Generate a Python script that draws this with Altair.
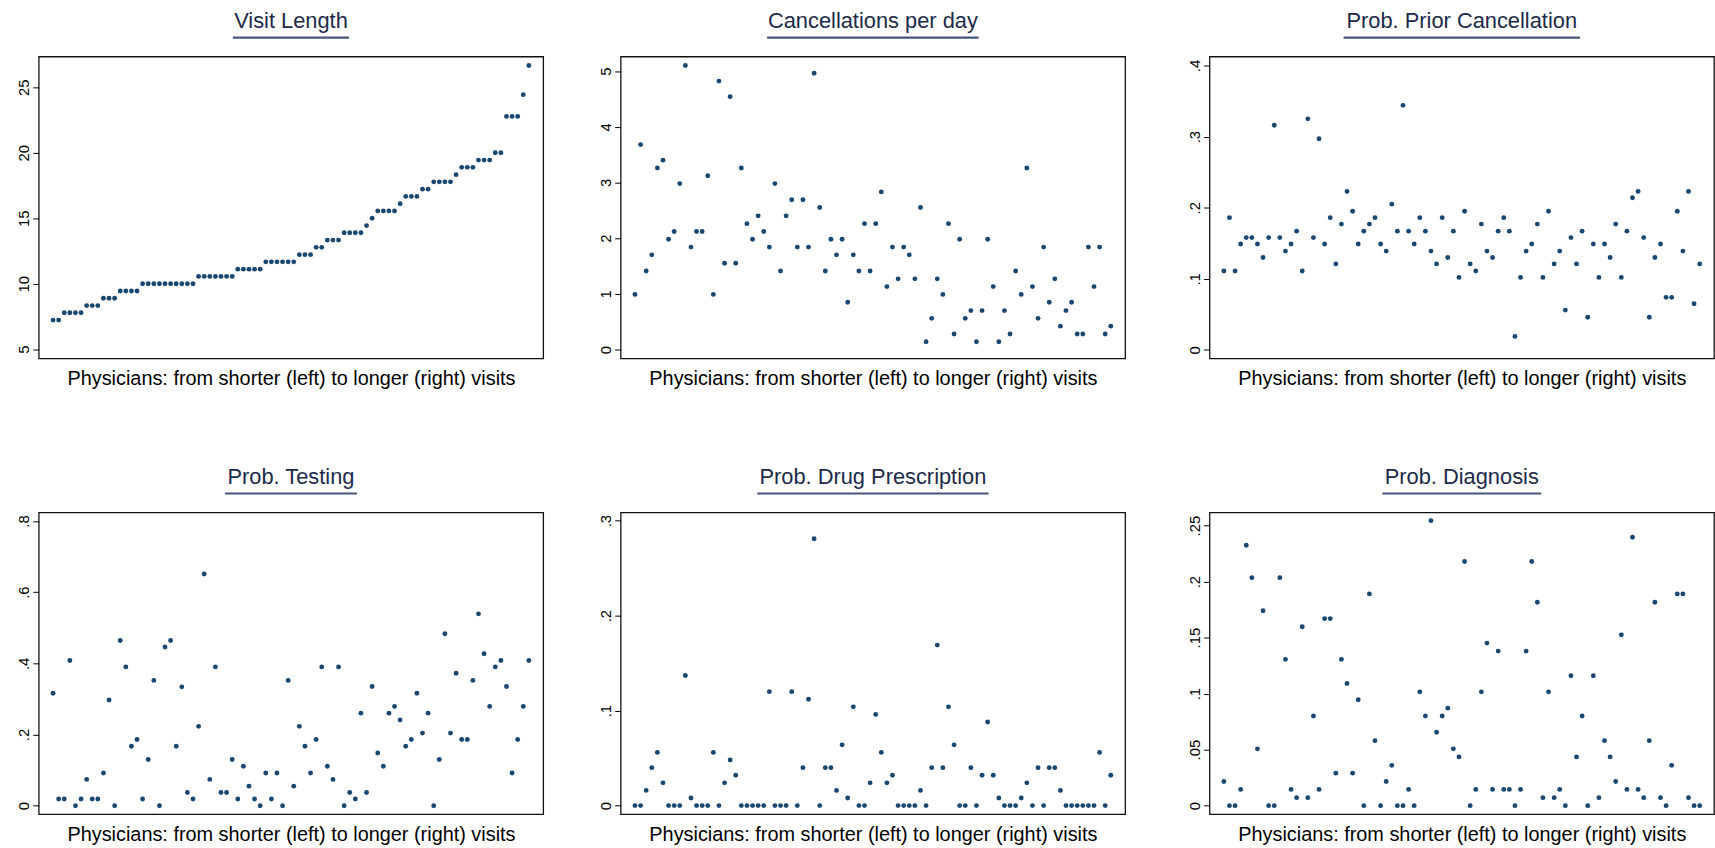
import altair as alt
import pandas as pd

FONT = "Liberation Sans"
NAVY = "#1a476f"

titles = ["Visit Length", "Cancellations per day", "Prob. Prior Cancellation",
          "Prob. Testing", "Prob. Drug Prescription", "Prob. Diagnosis"]
x_title = "Physicians: from shorter (left) to longer (right) visits"

visit_length = [7.22, 7.22, 7.78, 7.78, 7.78, 7.78, 8.33, 8.33, 8.33, 8.89, 8.89, 8.89,
                9.44, 9.44, 9.44, 9.44, 10.0, 10.0, 10.0, 10.0, 10.0, 10.0, 10.0, 10.0, 10.0, 10.0,
                10.56, 10.56, 10.56, 10.56, 10.56, 10.56, 10.56, 11.11, 11.11, 11.11, 11.11, 11.11,
                11.67, 11.67, 11.67, 11.67, 11.67, 11.67, 12.22, 12.22, 12.22, 12.78, 12.78,
                13.33, 13.33, 13.33, 13.89, 13.89, 13.89, 13.89, 14.44, 15.0, 15.56, 15.56, 15.56, 15.56,
                16.11, 16.67, 16.67, 16.67, 17.22, 17.22, 17.78, 17.78, 17.78, 17.78, 18.33,
                18.89, 18.89, 18.89, 19.44, 19.44, 19.44, 20.0, 20.0, 22.78, 22.78, 22.78, 24.44, 26.67]

cancellations = [0.99, 3.68, 1.41, 1.70, 3.26, 3.40, 1.98, 2.12, 2.98, 5.10,
                 1.84, 2.12, 2.12, 3.12, 0.99, 4.82, 1.55, 4.54, 1.55, 3.26,
                 2.26, 1.98, 2.40, 2.12, 1.84, 2.98, 1.41, 2.40, 2.69, 1.84,
                 2.69, 1.84, 4.96, 2.55, 1.41, 1.98, 1.70, 1.98, 0.85, 1.70,
                 1.41, 2.26, 1.41, 2.26, 2.83, 1.13, 1.84, 1.27, 1.84, 1.70,
                 1.27, 2.55, 0.14, 0.56, 1.27, 0.99, 2.26, 0.28, 1.98, 0.56,
                 0.70, 0.14, 0.70, 1.98, 1.13, 0.14, 0.70, 0.28, 1.41, 0.99,
                 3.26, 1.13, 0.56, 1.84, 0.85, 1.27, 0.42, 0.70, 0.85, 0.28,
                 0.28, 1.84, 1.13, 1.84, 0.28, 0.42]

prior_cancel = [0.111, 0.186, 0.111, 0.149, 0.158, 0.158, 0.149, 0.130, 0.158, 0.316,
                0.158, 0.139, 0.149, 0.167, 0.111, 0.325, 0.158, 0.297, 0.149, 0.186,
                0.121, 0.177, 0.223, 0.195, 0.149, 0.167, 0.177, 0.186, 0.149, 0.139,
                0.205, 0.167, 0.344, 0.167, 0.149, 0.186, 0.167, 0.139, 0.121, 0.186,
                0.130, 0.167, 0.102, 0.195, 0.121, 0.111, 0.177, 0.139, 0.130, 0.167,
                0.186, 0.167, 0.019, 0.102, 0.139, 0.149, 0.177, 0.102, 0.195, 0.121,
                0.139, 0.056, 0.158, 0.121, 0.167, 0.046, 0.149, 0.102, 0.149, 0.130,
                0.177, 0.102, 0.167, 0.214, 0.223, 0.158, 0.046, 0.130, 0.149, 0.074,
                0.074, 0.195, 0.139, 0.223, 0.065, 0.121]

testing = [0.316, 0.019, 0.019, 0.408, 0.0, 0.019, 0.074, 0.019, 0.019, 0.092,
           0.297, 0.0, 0.464, 0.390, 0.167, 0.186, 0.019, 0.130, 0.352, 0.0,
           0.446, 0.464, 0.167, 0.334, 0.037, 0.019, 0.223, 0.651, 0.074, 0.390,
           0.037, 0.037, 0.130, 0.019, 0.111, 0.055, 0.019, 0.0, 0.092, 0.019,
           0.092, 0.0, 0.352, 0.055, 0.223, 0.167, 0.092, 0.186, 0.390, 0.111,
           0.074, 0.390, 0.0, 0.037, 0.019, 0.260, 0.037, 0.335, 0.148, 0.111,
           0.260, 0.279, 0.241, 0.167, 0.186, 0.316, 0.204, 0.260, 0.0, 0.130,
           0.483, 0.204, 0.372, 0.186, 0.186, 0.352, 0.539, 0.427, 0.279, 0.390,
           0.408, 0.335, 0.092, 0.186, 0.279, 0.408]

drug = [0.0, 0.0, 0.016, 0.040, 0.056, 0.024, 0.0, 0.0, 0.0, 0.137,
        0.008, 0.0, 0.0, 0.0, 0.056, 0.0, 0.024, 0.048, 0.032, 0.0,
        0.0, 0.0, 0.0, 0.0, 0.120, 0.0, 0.0, 0.0, 0.120, 0.0,
        0.040, 0.112, 0.281, 0.0, 0.040, 0.040, 0.016, 0.064, 0.008, 0.104,
        0.0, 0.0, 0.024, 0.096, 0.056, 0.024, 0.032, 0.0, 0.0, 0.0,
        0.0, 0.016, 0.0, 0.040, 0.169, 0.040, 0.104, 0.064, 0.0, 0.0,
        0.040, 0.0, 0.032, 0.088, 0.032, 0.008, 0.0, 0.0, 0.0, 0.008,
        0.024, 0.0, 0.040, 0.0, 0.040, 0.040, 0.016, 0.0, 0.0, 0.0,
        0.0, 0.0, 0.0, 0.056, 0.0, 0.032]

diagnosis = [0.0216, 0.0, 0.0, 0.0145, 0.2325, 0.2035, 0.0507, 0.174, 0.0, 0.0,
             0.2035, 0.1306, 0.0145, 0.0071, 0.1597, 0.0071, 0.080, 0.0145, 0.167, 0.167,
             0.029, 0.1306, 0.109, 0.029, 0.0945, 0.0, 0.189, 0.058, 0.0, 0.0216,
             0.036, 0.0, 0.0, 0.0145, 0.0, 0.1016, 0.080, 0.2544, 0.0655, 0.080,
             0.087, 0.0507, 0.0435, 0.218, 0.0, 0.0145, 0.1016, 0.1451, 0.0145, 0.138,
             0.0145, 0.0145, 0.0, 0.0145, 0.138, 0.218, 0.1816, 0.0071, 0.1016, 0.0071,
             0.0145, 0.0, 0.116, 0.0435, 0.080, 0.0, 0.116, 0.0071, 0.058, 0.0435,
             0.0216, 0.1525, 0.0145, 0.2396, 0.0145, 0.0071, 0.058, 0.1816, 0.0071, 0.0,
             0.036, 0.189, 0.189, 0.0071, 0.0, 0.0]

y_domains = [[4.29, 27.35], [-0.16, 5.26], [-0.012, 0.4126],
             [-0.024, 0.824], [-0.0091, 0.3087], [-0.0077, 0.2618]]
y_ticks = [[5, 10, 15, 20, 25], [0, 1, 2, 3, 4, 5], [0, 0.1, 0.2, 0.3, 0.4],
           [0, 0.2, 0.4, 0.6, 0.8], [0, 0.1, 0.2, 0.3], [0, 0.05, 0.1, 0.15, 0.2, 0.25]]
x_domain = [-1.56, 88.56]

W, H = 508, 304
underline_w = [117, 213, 238, 133, 233, 160]


def panel(values, title, domain, ticks, uw):
    df = pd.DataFrame({"physician": list(range(1, len(values) + 1)), "value": values})
    pts = alt.Chart(df).mark_circle(size=24, color=NAVY, opacity=1).encode(
        x=alt.X("physician:Q",
                scale=alt.Scale(domain=x_domain, nice=False, zero=False),
                axis=alt.Axis(title=x_title, labels=False, ticks=False, domain=False,
                              grid=False, titleFontSize=20, titlePadding=10,
                              titleFontWeight="normal", titleColor="#000", titleFont=FONT)),
        y=alt.Y("value:Q",
                scale=alt.Scale(domain=domain, nice=False, zero=False),
                axis=alt.Axis(title=None, values=ticks, format="~g",
                              labelExpr="datum.value == 0 ? '0' : replace(datum.label, '0.', '.')",
                              labelAngle=270, labelAlign="center", labelBaseline="bottom",
                              labelFontSize=15, labelFont=FONT, labelColor="#000",
                              tickSize=6, labelPadding=1, domain=False, grid=False,
                              tickColor="#000", tickWidth=1))
    )
    tdf = pd.DataFrame({"t": [title]})
    ttl = alt.Chart(tdf).mark_text(fontSize=22, font=FONT, color="#1c2a4a",
                                   baseline="middle", align="center").encode(
        text="t:N", x=alt.value(W / 2), y=alt.value(-35.5))
    ul = alt.Chart(tdf).mark_rule(color="#46557a", strokeWidth=2.2).encode(
        x=alt.value(W / 2 - uw / 2), x2=alt.value(W / 2 + uw / 2), y=alt.value(-19))
    return alt.layer(pts, ttl, ul).properties(width=W, height=H)


series = [visit_length, cancellations, prior_cancel, testing, drug, diagnosis]
panels = [panel(series[i], titles[i], y_domains[i], y_ticks[i], underline_w[i]) for i in range(6)]

row1 = alt.hconcat(alt.hconcat(panels[0], panels[1], spacing=54), panels[2], spacing=61)
row2 = alt.hconcat(alt.hconcat(panels[3], panels[4], spacing=54), panels[5], spacing=61)

chart = alt.vconcat(row1, row2, spacing=76).properties(
    padding={"left": 16, "top": 6, "right": 0, "bottom": 0},
    background="white",
).configure_view(stroke="#111", strokeWidth=1.3)

chart.save("out.html", embed_options={"renderer": "svg", "actions": False})
